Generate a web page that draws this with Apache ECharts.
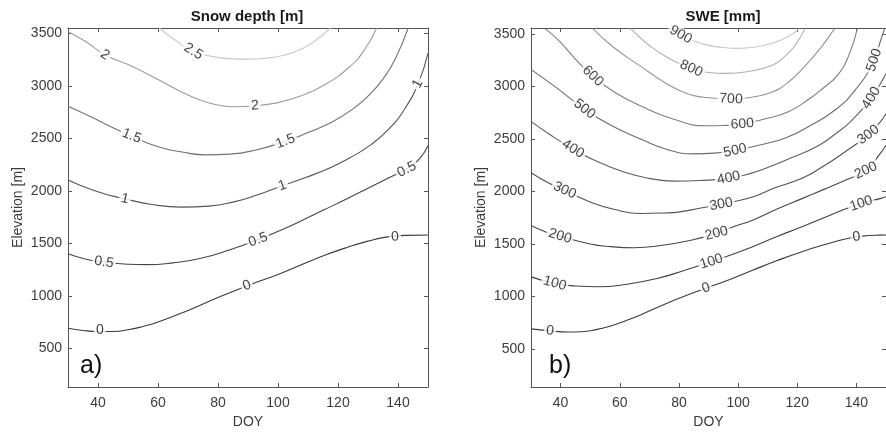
<!DOCTYPE html>
<html><head><meta charset="utf-8">
<script src="https://cdn.jsdelivr.net/npm/echarts@6/dist/echarts.min.js"></script>
<style>html,body{margin:0;padding:0;background:#fff}#c{width:886px;height:434px}</style>
</head><body><div id="c"></div>
<script>
// ---- data ----
const doyTicks = [40, 60, 80, 100, 120, 140];
const elevTicks = [500, 1000, 1500, 2000, 2500, 3000, 3500];

// Panel a: snow depth [m]
const depthLevels = ['0', '0.5', '1', '1.5', '2', '2.5'];
const depth_0 = [[30,693],[35,672],[40,662],[45,662],[50,678],[55,710],[60,752],[70,862],[80,985],[90,1100],[100,1205],[108,1300],[116,1392],[123,1462],[130,1522],[136,1560],[143,1577],[150,1580]];
const depth_05 = [[30,1402],[36,1350],[42,1322],[50,1302],[56,1298],[65,1315],[74,1356],[84,1440],[93.4,1535],[100,1615],[107,1705],[115,1815],[123,1925],[130,2025],[137,2125],[143,2210],[147,2300],[150,2430]];
const depth_1 = [[30,2104],[38,2010],[45,1950],[49,1924],[58,1870],[68,1846],[77,1855],[85,1893],[93,1960],[101,2045],[109,2125],[117,2215],[124,2315],[131,2440],[137,2590],[142,2770],[146.8,3027],[150,3311]];
const depth_15 = [[30,2806],[38,2700],[45,2600],[51,2523],[60,2420],[68,2370],[76,2343],[84,2350],[92,2385],[102,2467],[110,2555],[118,2655],[125,2780],[131,2930],[135,3065],[139,3250],[143.4,3550]];
const depth_2 = [[30,3515],[36,3420],[42.3,3295],[51.8,3180],[60,3060],[68.4,2935],[75,2855],[80.7,2812],[86,2800],[92.3,2810],[100,2840],[107.3,2901],[115,3000],[124,3184],[129,3350],[132.9,3550]];
const depth_25 = [[60.4,3550],[65,3450],[71.8,3326],[78,3280],[85,3256],[90,3254],[96,3262],[102,3290],[107.3,3342],[112,3420],[117.5,3550]];
const depthLab_0 = [[40.6,676],[89.6,1100],[139,1562]];
const depthLab_05 = [[42,1322],[93.4,1535],[142.9,2205]];
const depthLab_1 = [[49,1924],[101.5,2050],[146.6,3020]];
const depthLab_15 = [[51.2,2523],[102.5,2472]];
const depthLab_2 = [[42.3,3295],[92.3,2810]];
const depthLab_25 = [[71.8,3326]];

// Panel b: SWE [mm]
const sweLevels = ['0', '100', '200', '300', '400', '500', '600', '700', '800', '900'];
const swe_0 = [[30,692],[36.4,673],[42.6,663],[47,665],[52,685],[57,720],[62,770],[67,825],[75,925],[82,1005],[89.2,1080],[97,1160],[104.9,1250],[113,1340],[121.6,1427],[130,1500],[137,1553],[142,1575],[148,1585],[150,1586]];
const swe_100 = [[30,1187],[38,1125],[45,1100],[52.6,1093],[62,1115],[72.6,1172],[82,1250],[91,1333],[98,1400],[104.9,1475],[113,1570],[121.6,1664],[129,1750],[136,1830],[141.6,1885],[148,1932],[150,1950]];
const swe_200 = [[30,1676],[35,1615],[39.8,1575],[50,1500],[57,1475],[64.8,1465],[75,1490],[83.7,1534],[92.7,1601],[98,1660],[104.9,1727],[113,1830],[121.6,1932],[129,2020],[136,2105],[143.2,2200],[148,2360],[150,2440]];
const swe_300 = [[30,2178],[36,2080],[41.4,2010],[50,1900],[58,1830],[67,1790],[75,1795],[80.3,1806],[87,1840],[94.3,1878],[104.9,1948],[112,2030],[121.6,2125],[128,2225],[136,2374],[144,2540],[148,2660],[150,2740]];
const swe_400 = [[30,2667],[37,2530],[44.2,2405],[52,2290],[61.4,2185],[70,2125],[78.1,2099],[87,2105],[96.6,2125],[104,2170],[110.4,2232],[118,2320],[127.1,2436],[133,2550],[138.2,2670],[144.8,2878],[148,3020],[150,3120]];
const swe_500 = [[30,3162],[38,3000],[48.1,2784],[57,2630],[67,2500],[76,2400],[84.8,2358],[92,2365],[98.8,2389],[107,2440],[116,2510],[124,2620],[133,2780],[140,2980],[145.9,3241],[148,3420],[149.5,3550]];
const swe_600 = [[34.8,3550],[40,3420],[45,3260],[50.9,3099],[58,2950],[67,2815],[78,2690],[89.2,2626],[95,2628],[101.4,2642],[109,2690],[117,2760],[124,2880],[129,2990],[133.7,3110],[137.5,3300],[140.3,3550]];
const swe_700 = [[50.9,3550],[58,3370],[67,3193],[75,3040],[82,2940],[89.2,2894],[97.6,2880],[104,2895],[111.4,2945],[117,3040],[122.6,3193],[128,3370],[132.6,3550]];
const swe_800 = [[63.7,3550],[70,3390],[77,3260],[84.2,3170],[90,3132],[96,3124],[103,3140],[111.4,3200],[116,3290],[119.5,3400],[122.6,3550]];
const swe_900 = [[77,3550],[82,3470],[88,3405],[95,3370],[100,3362],[106,3375],[112,3415],[117,3475],[120.6,3550]];
const sweLab_0 = [[36.4,673],[89.2,1080],[140,1568]];
const sweLab_100 = [[38,1125],[91,1333],[141.6,1885]];
const sweLab_200 = [[39.8,1575],[92.7,1601],[143.2,2200]];
const sweLab_300 = [[41.4,2010],[94.3,1878],[144,2540]];
const sweLab_400 = [[44.2,2405],[96.8,2127],[145,2890]];
const sweLab_500 = [[48.1,2784],[99,2389],[146,3250]];
const sweLab_600 = [[50.9,3099],[101.4,2642]];
const sweLab_700 = [[97.6,2880]];
const sweLab_800 = [[84.2,3170]];
const sweLab_900 = [[80.6,3492]];

// ---- styling ----
const FONT = '"Liberation Sans", Arial, Helvetica, sans-serif';
const depthColors = ['#3a3a3a', '#444444', '#555555', '#727272', '#9c9c9c', '#c9c9c9'];
const sweColors = ['#3a3a3a', '#404040', '#484848', '#525252', '#5e5e5e', '#6c6c6c', '#7e7e7e', '#959595', '#adadad', '#c8c8c8'];

const panels = [
  { grid: 0, levels: depthLevels, lines: [depth_0, depth_05, depth_1, depth_15, depth_2, depth_25],
    labels: [depthLab_0, depthLab_05, depthLab_1, depthLab_15, depthLab_2, depthLab_25], colors: depthColors },
  { grid: 1, levels: sweLevels, lines: [swe_0, swe_100, swe_200, swe_300, swe_400, swe_500, swe_600, swe_700, swe_800, swe_900],
    labels: [sweLab_0, sweLab_100, sweLab_200, sweLab_300, sweLab_400, sweLab_500, sweLab_600, sweLab_700, sweLab_800, sweLab_900], colors: sweColors }
];

const axisCol = '#555555';
const textCol = '#3c3c3c';
const plain = function (v) { return String(v); };

function xAxes(g) {
  const base = {
    gridIndex: g, type: 'value', min: 30, max: 150,
    axisLine: { show: true, onZero: false, lineStyle: { color: axisCol, width: 1 } },
    axisTick: { show: true, inside: true, length: 4, customValues: doyTicks, lineStyle: { color: axisCol } },
    splitLine: { show: false }
  };
  return [
    Object.assign({}, base, {
      position: 'bottom',
      axisLabel: { customValues: doyTicks, formatter: plain, color: textCol, fontSize: 14, margin: 9, fontFamily: FONT },
      name: 'DOY', nameLocation: 'middle', nameGap: 28,
      nameTextStyle: { color: textCol, fontSize: 14, fontFamily: FONT }
    }),
    Object.assign({}, base, { position: 'top', axisLabel: { show: false } })
  ];
}
function yAxes(g, mn, mx) {
  const base = {
    gridIndex: g, type: 'value', min: mn, max: mx,
    axisLine: { show: true, onZero: false, lineStyle: { color: axisCol, width: 1 } },
    axisTick: { show: true, inside: true, length: 4, customValues: elevTicks, lineStyle: { color: axisCol } },
    splitLine: { show: false }
  };
  return [
    Object.assign({}, base, {
      position: 'left',
      axisLabel: { customValues: elevTicks, formatter: plain, color: textCol, fontSize: 14, margin: 6, fontFamily: FONT },
      name: 'Elevation [m]', nameLocation: 'middle', nameGap: 43,
      nameTextStyle: { color: textCol, fontSize: 14, fontFamily: FONT }
    }),
    Object.assign({}, base, { position: 'right', axisLabel: { show: false } })
  ];
}

function buildSeries(rotations) {
  const series = [];
  panels.forEach(function (p, pi) {
    p.lines.forEach(function (ln, li) {
      series.push({
        type: 'line', xAxisIndex: p.grid * 2, yAxisIndex: p.grid * 2, data: ln,
        smooth: 0.5, showSymbol: false, symbol: 'none', clip: true,
        lineStyle: { color: p.colors[li], width: 1.1 }, z: 2, silent: true
      });
    });
    p.labels.forEach(function (lab, li) {
      series.push({
        type: 'scatter', xAxisIndex: p.grid * 2, yAxisIndex: p.grid * 2,
        symbolSize: 1, itemStyle: { color: 'rgba(0,0,0,0)' }, z: 5, silent: true, clip: false,
        data: lab.map(function (pt, k) {
          return { value: pt, label: { rotate: rotations ? rotations[pi][li][k] : 0 } };
        }),
        label: {
          show: true, position: 'inside', formatter: p.levels[li],
          color: '#111111', fontSize: 14, fontFamily: FONT,
          backgroundColor: '#ffffff', padding: [0, 2]
        }
      });
    });
  });
  return series;
}

const chart = echarts.init(document.getElementById('c'), null, { renderer: 'canvas' });
const option = {
  animation: false,
  backgroundColor: '#ffffff',
  grid: [
    { left: 68, top: 28, width: 360, height: 361 },
    { left: 531, top: 28, width: 361, height: 361 }
  ],
  xAxis: xAxes(0).concat(xAxes(1)),
  yAxis: yAxes(0, 134, 3550).concat(yAxes(1, 139, 3556)),
  graphic: [
    { type: 'text', x: 247, y: 9, style: { text: 'Snow depth [m]', font: 'bold 15px ' + FONT, fill: '#1a1a1a', textAlign: 'center' } },
    { type: 'text', x: 723, y: 9, style: { text: 'SWE [mm]', font: 'bold 15px ' + FONT, fill: '#1a1a1a', textAlign: 'center' } },
    { type: 'text', x: 80, y: 366, style: { text: 'a)', font: '25px ' + FONT, fill: '#111', textVerticalAlign: 'middle' } },
    { type: 'text', x: 549, y: 366, style: { text: 'b)', font: '25px ' + FONT, fill: '#111', textVerticalAlign: 'middle' } }
  ],
  series: buildSeries(null)
};
chart.setOption(option);

// rotate each contour label along its line (computed from line data via the chart's scales)
const rotations = panels.map(function (p) {
  return p.labels.map(function (lab, li) {
    const ln = p.lines[li];
    return lab.map(function (pt) {
      let i = 0;
      while (i < ln.length - 2 && ln[i + 1][0] < pt[0]) i++;
      const a = chart.convertToPixel({ gridIndex: p.grid }, ln[i]);
      const b = chart.convertToPixel({ gridIndex: p.grid }, ln[i + 1]);
      let ang = -Math.atan2(b[1] - a[1], b[0] - a[0]) * 180 / Math.PI;
      if (ang > 90) ang -= 180;
      if (ang < -90) ang += 180;
      return ang;
    });
  });
});
option.series = buildSeries(rotations);
chart.setOption(option, true);
</script>
</body></html>
